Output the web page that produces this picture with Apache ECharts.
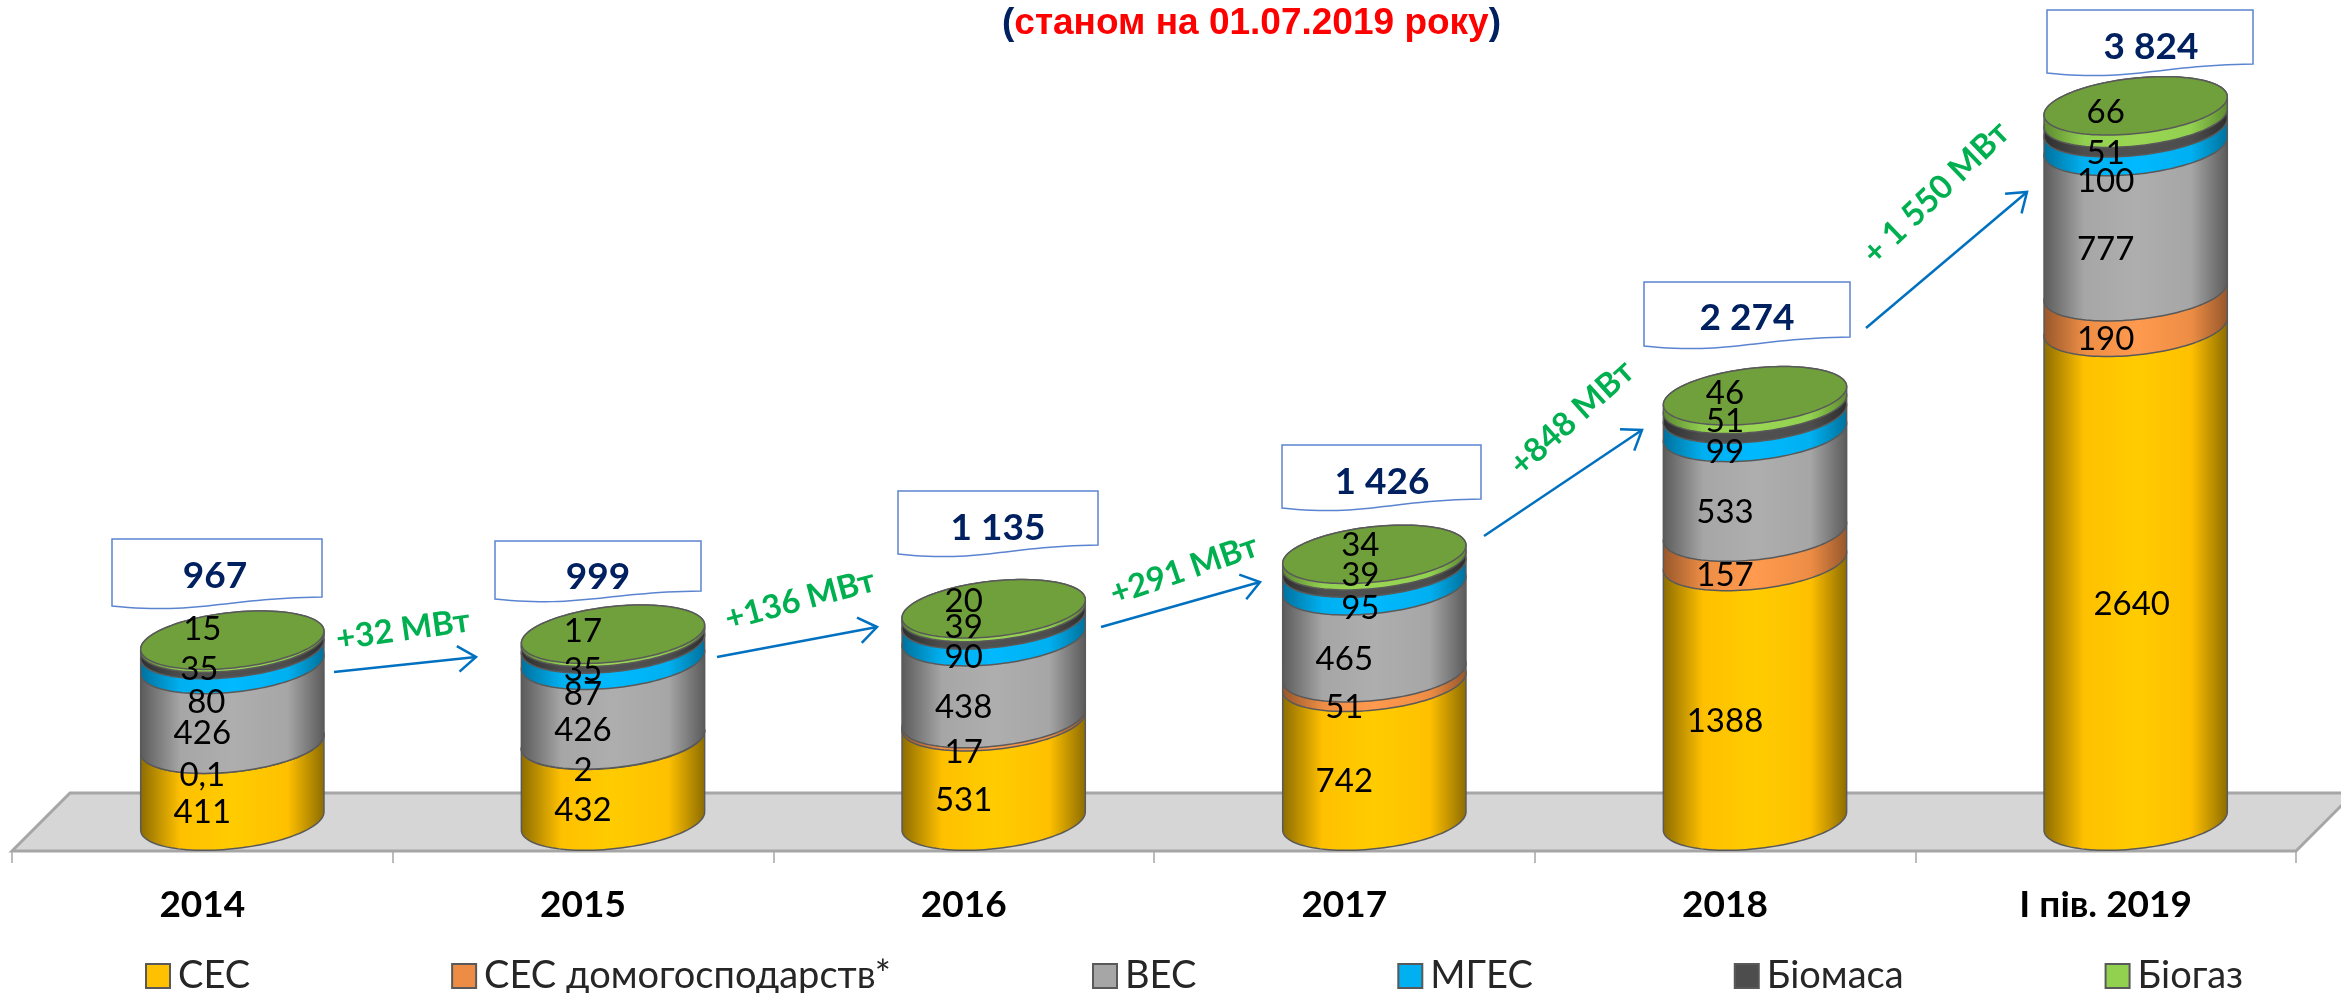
<!DOCTYPE html>
<html>
<head>
<meta charset="utf-8">
<title>chart</title>
<script src="https://cdn.jsdelivr.net/npm/echarts@6/dist/echarts.min.js"></script>
<style>
html, body { margin: 0; padding: 0; background: #fff; }
#main { width: 2341px; height: 993px; }
</style>
</head>
<body>
<div id="main"></div>
<script>
var categories = ['2014', '2015', '2016', '2017', '2018', 'І пів. 2019'];
var sesValues = [411, 432, 531, 742, 1388, 2640];
var homeSesValues = [0.1, 2, 17, 51, 157, 190];
var vesValues = [426, 426, 438, 465, 533, 777];
var mgesValues = [80, 87, 90, 95, 99, 100];
var biomassValues = [35, 35, 39, 39, 51, 51];
var biogasValues = [15, 17, 20, 34, 46, 66];
var totals = ['967', '999', '1 135', '1 426', '2 274', '3 824'];
var growthLabels = ['+32 МВт', '+136 МВт', '+291 МВт', '+848 МВт', '+ 1 550 МВт'];

var seriesNames = ['СЕС', 'СЕС домогосподарств*', 'ВЕС', 'МГЕС', 'Біомаса', 'Біогаз'];
var seriesValues = [sesValues, homeSesValues, vesValues, mgesValues, biomassValues, biogasValues];

// colours: legend, cylinder edge, cylinder middle
var legendColors = ['#ffc000', '#ed8d45', '#a6a6a6', '#00b0f0', '#4d4d4d', '#92d050'];
var edgeColors = ['#8c6c00', '#96562a', '#5a5a5a', '#00709c', '#2e2e2e', '#5d8a30'];
var midColors = ['#ffcc00', '#ff9a4e', '#aeaeae', '#00b9ff', '#505050', '#9ad653'];
var capColor = '#70a03c';
var lineColor = '#595959';

// hand placed labels, same as in the source slide (per series, per year, px)
var labelNudgeY = [
    [0, 0, -1, 0, 0, 0],
    [1, 0, 2, 0, -1, 0],
    [-1, 0, 0, 0, 0, 0],
    [15, 12, -1, 1, -1, 14],
    [-7, 0, -19, -19, -18, 0],
    [-42, -34, -39, -42, -37, -30]
];
var labelNudgeX = [
    [0, 0, 0, 0, 0, 26],
    [0, 0, 0, 0, 0, 0],
    [0, 0, 0, 0, 0, 0],
    [4, 0, 0, 16, 0, 0],
    [-3, 0, 0, 16, 0, 0],
    [0, 0, 0, 16, 0, 0]
];

// [left, top, right, right bottom, left bottom, text x, text y]
var boxLayout = [
    [112, 539, 322, 597, 606, 215, 576],
    [495, 541, 701, 591, 599, 598, 577],
    [898, 491, 1098, 545, 554, 998, 528],
    [1282, 445, 1481, 499, 508, 1382, 482],
    [1644, 282, 1850, 337, 346, 1747, 318],
    [2047, 10, 2253, 64, 73, 2151, 47]
];
// [x1, y1, x2, y2]
var arrowLayout = [
    [334, 672, 476, 657],
    [717, 657, 877, 627],
    [1101, 627, 1260, 582],
    [1484, 536, 1642, 430],
    [1866, 328, 2027, 192]
];
// [x, y, rotation]
var growthLayout = [
    [403, 630, 8],
    [800, 600, 15],
    [1184, 570, 19],
    [1572, 418, 42],
    [1936, 193, 44]
];

var fontName = 'Lato, "Noto Sans", sans-serif';

var TILT = -6.2 * Math.PI / 180;
var MINOR_RATIO = 0.30;
var BAR_SHIFT = 30;
var LABEL_DROP = 30;

var ellipsePoint = function(cx, cy, a, b, t){
    return [
        cx + a * Math.cos(t) * Math.cos(TILT) - b * Math.sin(t) * Math.sin(TILT),
        cy + a * Math.cos(t) * Math.sin(TILT) + b * Math.sin(t) * Math.cos(TILT)
    ];
};

var renderCylinder = function(params, api){
    var idx = api.value(0);
    var low = api.coord([idx, api.value(1)]);
    var high = api.coord([idx, api.value(2)]);
    var a = api.size([1, 0])[0] * 0.242;
    var b = a * MINOR_RATIO;
    var cx = low[0] + BAR_SHIFT;
    var tRight = Math.atan2(-b * Math.sin(TILT), a * Math.cos(TILT));

    // front arc of the lower rim, then back arc of the upper rim
    var points = [];
    var i;
    for (i = 0; i <= 60; i++) {
        points.push(ellipsePoint(cx, low[1], a, b, tRight + Math.PI * i / 60));
    }
    for (i = 0; i <= 60; i++) {
        points.push(ellipsePoint(cx, high[1], a, b, tRight + Math.PI + Math.PI * i / 60));
    }

    var s = params.seriesIndex;
    var children = [{
        type: 'polygon',
        shape: {points: points},
        style: {
            fill: new echarts.graphic.LinearGradient(0, 0, 1, 0, [
                {offset: 0, color: edgeColors[s]},
                {offset: 0.22, color: legendColors[s]},
                {offset: 0.5, color: midColors[s]},
                {offset: 0.8, color: legendColors[s]},
                {offset: 1, color: edgeColors[s]}
            ]),
            stroke: lineColor,
            lineWidth: 1.5
        }
    }];

    if (s === seriesValues.length - 1) {
        var cap = [];
        for (i = 0; i < 120; i++) {
            cap.push(ellipsePoint(cx, high[1], a, b, Math.PI * i / 60));
        }
        children.push({
            type: 'polygon',
            shape: {points: cap},
            style: {fill: capColor, stroke: lineColor, lineWidth: 1.5}
        });
    }

    var mid = api.coord([idx, (api.value(1) + api.value(2)) / 2]);
    children.push({
        type: 'text',
        z2: 100,
        style: {
            text: String(seriesValues[s][idx]).replace('.', ','),
            x: mid[0] + labelNudgeX[s][idx],
            y: mid[1] + LABEL_DROP + labelNudgeY[s][idx],
            align: 'center',
            verticalAlign: 'middle',
            fill: '#000',
            font: '33px ' + fontName
        }
    });

    return {type: 'group', children: children};
};

var runningTotal = categories.map(function(){ return 0; });
var series = seriesValues.map(function(values, s){
    var rows = values.map(function(v, i){
        var row = [i, runningTotal[i], runningTotal[i] + v];
        runningTotal[i] += v;
        return row;
    });
    return {
        name: seriesNames[s],
        type: 'custom',
        renderItem: renderCylinder,
        itemStyle: {color: legendColors[s]},
        encode: {x: 0, y: [1, 2]},
        data: rows,
        z: 2
    };
});

var graphicItems = [{
    type: 'polygon',
    z: 0,
    shape: {points: [[12, 851], [70, 793], [2354, 793], [2296, 851]]},
    style: {fill: '#d6d6d6', stroke: '#a6a6a6', lineWidth: 3}
}];

// document shape: flat top, wavy bottom
var boxPoints = function(box){
    var l = box[0], t = box[1], r = box[2], rb = box[3], lb = box[4];
    var w = r - l;
    var pts = [[l, t], [r, t], [r, rb]];
    for (var i = 1; i <= 30; i++) {
        var u = i / 30, v = 1 - u;
        pts.push([
            v * v * v * r + 3 * v * v * u * (r - 0.45 * w) + 3 * v * u * u * (l + 0.4 * w) + u * u * u * l,
            v * v * v * rb + 3 * v * v * u * (rb + 1) + 3 * v * u * u * (lb + 9) + u * u * u * lb
        ]);
    }
    return pts;
};

boxLayout.forEach(function(box, i){
    graphicItems.push({
        type: 'polygon',
        z: 5,
        shape: {points: boxPoints(box)},
        style: {fill: '#fff', stroke: '#5b84d0', lineWidth: 1.5}
    });
    graphicItems.push({
        type: 'text',
        z: 6,
        style: {
            text: totals[i],
            x: box[5],
            y: box[6],
            align: 'center',
            verticalAlign: 'middle',
            fill: '#002060',
            font: 'bold 37px ' + fontName
        }
    });
});

arrowLayout.forEach(function(p){
    var ang = Math.atan2(p[3] - p[1], p[2] - p[0]);
    var head = 22;
    var spread = 0.62;
    graphicItems.push({
        type: 'polyline',
        z: 5,
        shape: {points: [[p[0], p[1]], [p[2], p[3]]]},
        style: {stroke: '#0070c0', lineWidth: 2.5, fill: null}
    });
    graphicItems.push({
        type: 'polyline',
        z: 5,
        shape: {points: [
            [p[2] - head * Math.cos(ang - spread), p[3] - head * Math.sin(ang - spread)],
            [p[2], p[3]],
            [p[2] - head * Math.cos(ang + spread), p[3] - head * Math.sin(ang + spread)]
        ]},
        style: {stroke: '#0070c0', lineWidth: 2.5, fill: null}
    });
});

growthLayout.forEach(function(p, i){
    graphicItems.push({
        type: 'text',
        z: 6,
        x: p[0],
        y: p[1],
        rotation: p[2] * Math.PI / 180,
        style: {
            text: growthLabels[i],
            x: 0,
            y: 0,
            align: 'center',
            verticalAlign: 'middle',
            fill: '#00b050',
            font: 'bold 33px ' + fontName
        }
    });
});

var myChart = echarts.init(document.getElementById('main'), null, {renderer: 'canvas'});

var title = {
    text: '{p|(}{r|станом на 01.07.2019 року}{p|)}',
    left: 997,
    top: 0,
    textStyle: {
        rich: {
            p: {color: '#002060', fontFamily: '"Liberation Sans"', fontWeight: 'bold', fontSize: 37},
            r: {color: '#ff0000', fontFamily: '"Liberation Sans"', fontWeight: 'bold', fontSize: 37}
        }
    }
};

var legend = {
    data: seriesNames,
    left: 140,
    top: 952,
    icon: 'rect',
    itemWidth: 24,
    itemHeight: 24,
    itemGap: 201,
    selectedMode: false,
    itemStyle: {borderColor: lineColor, borderWidth: 2},
    textStyle: {fontFamily: fontName, fontSize: 38, color: '#262626', padding: [0, 0, 0, 3]}
};

var xAxis = {
    type: 'category',
    data: categories,
    axisLine: {show: false, onZero: false},
    axisTick: {show: true, length: 12, lineStyle: {color: '#a6a6a6', width: 1.5}},
    axisLabel: {
        margin: 36,
        interval: 0,
        color: '#000',
        fontFamily: fontName,
        fontWeight: 'bold',
        fontSize: 37
    }
};

// min below zero leaves the room between the cylinder base and the front of the floor
var yAxis = {
    type: 'value',
    min: -160,
    max: 4390,
    show: false,
    splitLine: {show: false}
};

var option = {
    animation: false,
    title: title,
    legend: legend,
    grid: {left: 12, top: 0, width: 2284, height: 851},
    xAxis: xAxis,
    yAxis: yAxis,
    series: series,
    graphic: {elements: graphicItems}
};

myChart.setOption(option);
</script>
</body>
</html>
